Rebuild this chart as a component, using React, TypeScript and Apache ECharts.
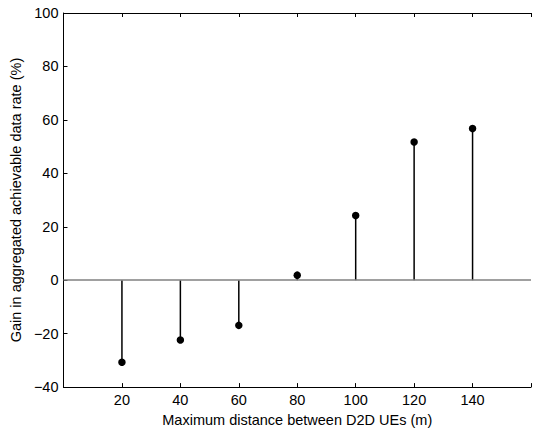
import React, { useEffect, useRef } from "react";
import * as echarts from "echarts";

const distances = [20, 40, 60, 80, 100, 120, 140];
const gains = [-30.7, -22.4, -16.9, 1.9, 24.2, 51.7, 56.8];
const xLabel = "Maximum distance between D2D UEs (m)";
const yLabel = "Gain in aggregated achievable data rate (%)";

const FONT = "'Liberation Sans', Arial, Helvetica, sans-serif";
const FS = 14.5;

export default function App() {
  const ref = useRef<HTMLDivElement>(null);
  useEffect(() => {
    if (!ref.current) return;
    const chart = echarts.init(ref.current, undefined, { renderer: "svg" });
    const fmtY = (v: number) => (v < 0 ? "\u2212" + Math.abs(v) : String(v));
    const data = distances.map((d, i) => [d, gains[i]]);
    chart.setOption({
      animation: false,
      backgroundColor: "#fff",
      grid: { left: 63, top: 13, width: 478, height: 375, show: false },
      xAxis: [
        {
          type: "value",
          min: 0,
          max: 160,
          interval: 20,
          position: "bottom",
          name: xLabel,
          nameLocation: "middle",
          nameGap: 22,
          nameTextStyle: { fontFamily: FONT, fontSize: FS, color: "#000" },
          axisLine: { show: true, onZero: false, lineStyle: { color: "#000", width: 1 } },
          axisTick: { show: true, inside: true, length: 4, lineStyle: { color: "#000" } },
          axisLabel: {
            fontFamily: FONT,
            fontSize: FS,
            color: "#000",
            margin: 5,
            formatter: (v: number) => (v === 0 || v === 160 ? "" : String(v)),
          },
          splitLine: { show: false },
        },
        {
          type: "value",
          min: 0,
          max: 160,
          interval: 20,
          position: "top",
          axisLine: { show: true, onZero: false, lineStyle: { color: "#000", width: 1 } },
          axisTick: { show: true, inside: true, length: 4, lineStyle: { color: "#000" } },
          axisLabel: { show: false },
          splitLine: { show: false },
        },
      ],
      yAxis: [
        {
          type: "value",
          min: -40,
          max: 100,
          interval: 20,
          position: "left",
          name: yLabel,
          nameLocation: "middle",
          nameGap: 35,
          nameTextStyle: { fontFamily: FONT, fontSize: FS, color: "#000" },
          axisLine: { show: true, onZero: false, lineStyle: { color: "#000", width: 1 } },
          axisTick: { show: true, inside: true, length: 4, lineStyle: { color: "#000" } },
          axisLabel: { fontFamily: FONT, fontSize: FS, color: "#000", margin: 5, formatter: fmtY },
          splitLine: { show: false },
        },
      ],
      series: [
        {
          type: "line",
          data: [],
          markLine: {
            silent: true,
            symbol: "none",
            label: { show: false },
            lineStyle: { color: "#808080", width: 1.5, type: "solid" },
            data: [{ yAxis: 0 }],
          },
        },
        {
          type: "custom",
          data,
          renderItem: (params: any, api: any) => {
            const x = api.value(0);
            const y = api.value(1);
            const p0 = api.coord([x, 0]);
            const p1 = api.coord([x, y]);
            return {
              type: "group",
              children: [
                {
                  type: "line",
                  shape: { x1: p0[0], y1: p0[1], x2: p1[0], y2: p1[1] },
                  style: { stroke: "#000", lineWidth: 1.5 },
                },
                {
                  type: "circle",
                  shape: { cx: p1[0], cy: p1[1], r: 3.75 },
                  style: { fill: "#000" },
                },
              ],
            };
          },
        },
      ],
    });
    return () => chart.dispose();
  }, []);
  return (
    <div
      ref={ref}
      style={{ position: "fixed", left: 0, top: 0, width: 534, height: 432 }}
    />
  );
}
